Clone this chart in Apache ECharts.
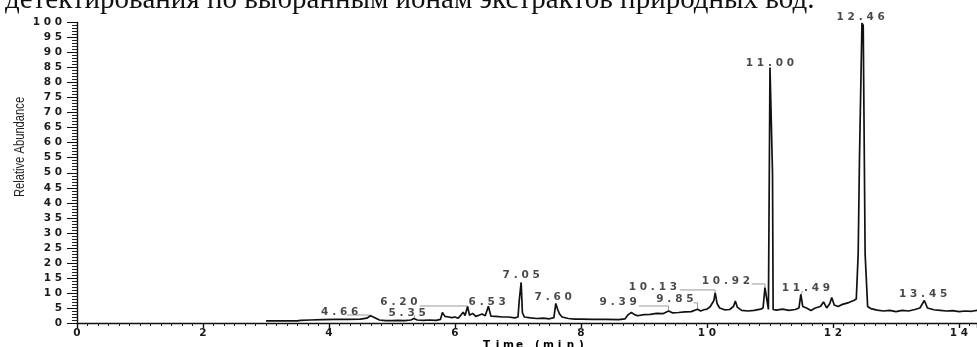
<!DOCTYPE html>
<html>
<head>
<meta charset="utf-8">
<script src="https://cdn.jsdelivr.net/npm/echarts@6/dist/echarts.min.js"></script>
<style>
  html, body { margin: 0; padding: 0; background: #fff; }
  #chart { width: 977px; height: 347px; }
</style>
</head>
<body>
<div id="chart"></div>
<script>
// Total ion chromatogram: retention time (min) vs relative abundance (%)
const traceTime = [
  3.00, 3.50, 3.55, 3.70, 3.90, 4.10, 4.30, 4.50, 4.60, 4.66, 4.72, 4.80, 4.90, 5.00, 5.10, 5.20,
  5.30, 5.35, 5.40, 5.50, 5.60, 5.70, 5.77, 5.80, 5.84, 5.90, 5.95, 6.00, 6.05, 6.10, 6.13, 6.16,
  6.20, 6.23, 6.28, 6.33, 6.38, 6.43, 6.48, 6.53, 6.57, 6.65, 6.75, 6.85, 6.95, 7.00, 7.02, 7.05,
  7.07, 7.10, 7.20, 7.30, 7.40, 7.50, 7.57, 7.60, 7.63, 7.66, 7.70, 7.80, 7.90, 8.00, 8.20, 8.40,
  8.60, 8.70, 8.75, 8.80, 8.85, 8.90, 9.00, 9.10, 9.20, 9.30, 9.39, 9.45, 9.55, 9.65, 9.75, 9.85,
  9.90, 9.95, 10.00, 10.05, 10.08, 10.11, 10.13, 10.16, 10.20, 10.28, 10.36, 10.42, 10.45, 10.48,
  10.55, 10.65, 10.75, 10.85, 10.89, 10.92, 10.95, 10.975, 11.00, 11.03, 11.04, 11.05, 11.10, 11.20, 11.30,
  11.40, 11.46, 11.49, 11.52, 11.58, 11.65, 11.72, 11.80, 11.85, 11.90, 11.95, 11.98, 12.02, 12.08,
  12.15, 12.25, 12.33, 12.37, 12.40, 12.42, 12.46, 12.48, 12.51, 12.55, 12.60, 12.70, 12.80, 12.90,
  13.00, 13.10, 13.20, 13.30, 13.38, 13.45, 13.50, 13.60, 13.70, 13.80, 13.90, 14.00, 14.10, 14.20,
  14.29
];
const traceAbundance = [
  0.7, 0.7, 0.9, 1.0, 1.1, 1.2, 1.2, 1.3, 1.6, 2.4, 1.8, 1.0, 0.8, 0.8, 0.9, 0.8,
  1.0, 1.5, 1.0, 0.9, 1.0, 0.9, 1.2, 3.5, 2.2, 2.0, 1.8, 2.0, 1.6, 2.8, 3.6, 2.5,
  5.5, 2.6, 3.2, 2.2, 2.6, 3.0, 2.4, 5.6, 2.3, 2.2, 2.0, 2.0, 1.7, 2.0, 7.5, 13.5,
  3.5, 2.0, 1.7, 1.5, 1.6, 1.4, 1.8, 6.5, 4.5, 3.0, 2.0, 1.5, 1.3, 1.3, 1.2, 1.2,
  1.1, 1.4, 2.8, 3.5, 2.8, 2.4, 2.8, 2.9, 3.2, 3.1, 4.0, 3.4, 3.5, 3.7, 3.8, 4.6,
  4.0, 4.4, 4.6, 5.4, 4.8, 7.5, 10.0, 6.5, 5.0, 4.4, 4.5, 5.5, 7.3, 5.3,
  4.2, 4.0, 4.2, 4.6, 5.0, 11.8, 11.3, 4.5, 85.0, 84.5, 50.0, 4.5, 4.3, 4.6, 4.2,
  4.5, 5.0, 9.5, 5.5, 5.0, 4.2, 5.0, 5.5, 7.0, 5.0, 6.5, 8.5, 6.0, 5.5,
  6.2, 6.8, 7.5, 8.0, 23.0, 54.0, 99.8, 99.0, 23.0, 5.5, 4.8, 4.3, 4.0, 4.2,
  3.8, 4.2, 4.0, 4.5, 5.0, 7.5, 5.0, 4.4, 4.2, 4.0, 4.1, 3.8, 4.0, 3.9,
  4.2
];

// Annotated retention times and where their labels sit (time, abundance)
const peakRT = [4.66, 5.35, 6.20, 6.53, 7.05, 7.60, 9.39, 9.85, 10.13, 10.92, 11.00, 11.49, 12.46, 13.45];
const peakLabelTime = [4.17, 5.24, 5.11, 6.51, 7.05, 7.56, 8.59, 9.49, 9.14, 10.30, 11.00, 11.57, 12.44, 13.43];
const peakLabelLevel = [3.66, 3.33, 6.99, 6.99, 15.97, 8.5, 7.0, 8.0, 12.0, 14.0, 86.5, 11.65, 101.8, 9.65];

// Leader lines joining offset labels to their peaks
const leaderLines = [
  [[4.29, 2.66], [4.66, 2.66], [4.66, 2.4]],
  [[5.36, 2.6], [5.35, 1.6]],
  [[5.44, 5.66], [6.20, 5.66], [6.20, 5.5]],
  [[8.92, 5.66], [9.39, 5.66], [9.39, 4.0]],
  [[9.79, 6.7], [9.85, 6.7], [9.85, 4.6]],
  [[9.57, 11.0], [10.13, 11.0], [10.13, 10.0]],
  [[10.71, 13.0], [10.92, 13.0], [10.92, 11.8]],
  [[11.52, 10.6], [11.49, 9.5]]
];

const xTicks = [0, 2, 4, 6, 8, 10, 12, 14];
const yTickStep = 5;
const xAxisTitle = 'Time (min)';
const yAxisTitle = 'Relative Abundance';
const headerLine = 'детектирования по выбранным ионам экстрактов природных вод.';

// Wide, letter-spaced instrument font emulated with one rich-text cell per character
const cellFont = { fontFamily: 'DejaVu Sans', fontWeight: 'bold', fontSize: 10.5, color: '#1a1a1a' };
const monoRich = {
  d: Object.assign({ width: 11, align: 'center' }, cellFont),
  p: Object.assign({ width: 8, align: 'center' }, cellFont),
  s: Object.assign({ width: 7, align: 'center' }, cellFont)
};
function spaced(str) {
  return String(str).split('').map(function (c) {
    if (c === '.') return '{p|.}';
    if (c === ' ') return '{s| }';
    return '{d|' + c + '}';
  }).join('');
}

const chart = echarts.init(document.getElementById('chart'), null, { renderer: 'canvas' });

const option = {
  animation: false,
  backgroundColor: '#ffffff',
  grid: { left: 77, right: 0, top: 22.5, bottom: 24, containLabel: false },
  xAxis: {
    type: 'value',
    min: 0,
    max: 14.286,
    interval: 2,
    axisLine: { show: true, lineStyle: { color: '#111', width: 1.4 } },
    axisTick: { show: true, length: 5, lineStyle: { color: '#111', width: 1.4 } },
    minorTick: { show: true, splitNumber: 12, length: 3, lineStyle: { color: '#222', width: 1 } },
    splitLine: { show: false },
    axisLabel: {
      margin: 5,
      showMaxLabel: false,
      formatter: function (v) { return xTicks.indexOf(v) >= 0 ? spaced(v) : ''; },
      rich: monoRich
    }
  },
  yAxis: {
    type: 'value',
    min: 0,
    max: 100,
    interval: yTickStep,
    axisLine: { show: true, lineStyle: { color: '#111', width: 1.4 } },
    axisTick: { show: true, length: 10, lineStyle: { color: '#111', width: 1 } },
    minorTick: { show: true, splitNumber: 5, length: 5, lineStyle: { color: '#222', width: 1 } },
    splitLine: { show: false },
    axisLabel: {
      margin: 13,
      formatter: function (v) { return spaced(v); },
      rich: monoRich
    }
  },
  graphic: [
    {
      type: 'text',
      left: 5,
      top: -14,
      style: {
        text: headerLine,
        font: '29px "Liberation Serif", "DejaVu Serif", serif',
        fill: '#111'
      }
    },
    {
      type: 'text',
      x: 20,
      y: 147,
      rotation: Math.PI / 2,
      scaleX: 0.8,
      style: {
        text: yAxisTitle,
        font: '14px "Liberation Sans", sans-serif',
        fill: '#222',
        align: 'center',
        verticalAlign: 'middle'
      }
    },
    {
      type: 'text',
      x: 534,
      y: 345,
      style: {
        text: spaced(xAxisTitle),
        rich: monoRich,
        align: 'center',
        verticalAlign: 'middle'
      }
    }
  ],
  series: [
    {
      type: 'lines',
      coordinateSystem: 'cartesian2d',
      polyline: true,
      silent: true,
      z: 1,
      lineStyle: { color: '#9a9a9a', width: 1, opacity: 1 },
      data: leaderLines.map(function (c) { return { coords: c }; })
    },
    {
      type: 'line',
      name: 'TIC',
      showSymbol: false,
      symbol: 'none',
      clip: false,
      z: 3,
      lineStyle: { color: '#111', width: 1.7 },
      data: traceTime.map(function (t, i) { return [t, traceAbundance[i]]; })
    },
    {
      type: 'scatter',
      symbolSize: 0,
      silent: true,
      clip: false,
      z: 4,
      label: {
        show: true,
        position: 'inside',
        formatter: function (p) { return spaced(p.value[2].toFixed(2)); },
        rich: monoRich
      },
      data: peakRT.map(function (rt, i) { return [peakLabelTime[i], peakLabelLevel[i], rt]; })
    }
  ]
};

chart.setOption(option);
</script>
</body>
</html>
